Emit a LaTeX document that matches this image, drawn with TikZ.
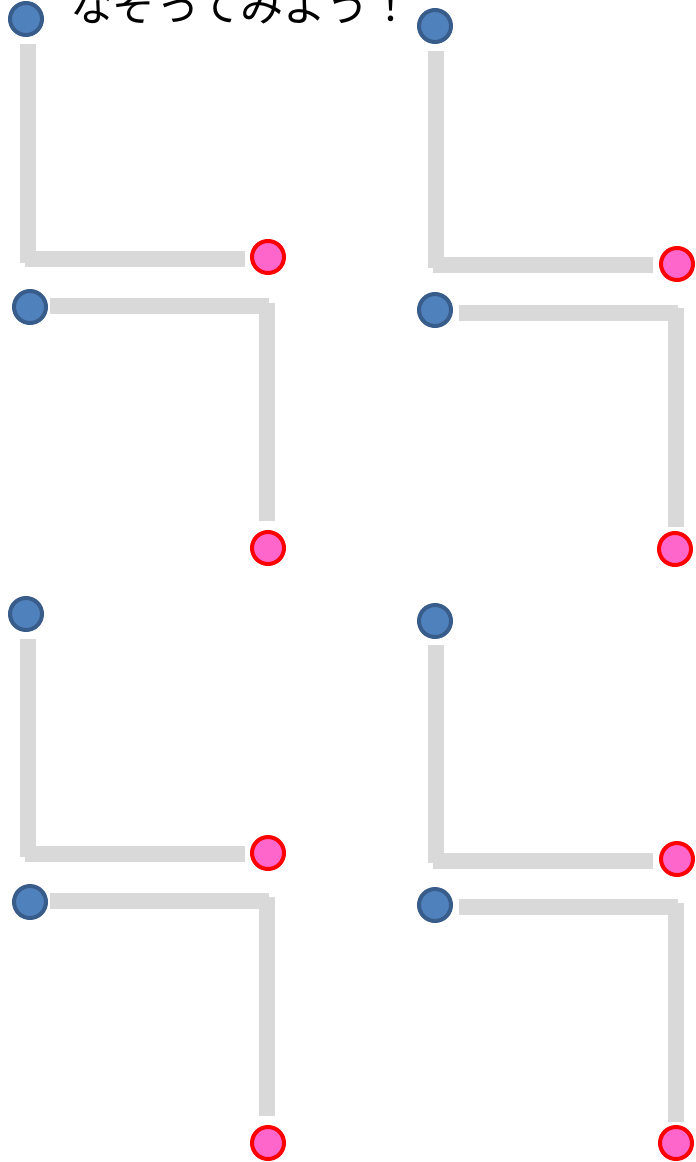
\documentclass[tikz,border=0pt]{standalone}
\usepackage{xcolor}
\usepackage{fontspec}
\newfontfamily\jpfont{Noto Sans CJK JP}
\definecolor{dotblue}{HTML}{4F81BD}
\definecolor{dotblueline}{HTML}{385D8A}
\definecolor{dotpink}{HTML}{FF66CC}
\definecolor{bargray}{HTML}{D9D9D9}

\begin{document}
\begin{tikzpicture}[x=1pt, y=-1pt,
  bluedot/.style={circle, draw=dotblueline, fill=dotblue, line width=4pt, minimum size=32pt, inner sep=0pt},
  pinkdot/.style={circle, draw=red, fill=dotpink, line width=4pt, minimum size=32pt, inner sep=0pt},
  bar/.style={draw=bargray, line width=16pt, line cap=butt}]
\useasboundingbox (0, 0) rectangle (696, 1162);
\node[anchor=base west, inner sep=0pt, font=\jpfont\fontsize{43}{43}\selectfont] (title) at (70, 21) {なぞってみよう！};

% top left
\draw[bar] (28, 44) -- (28, 263);
\draw[bar] (25, 259) -- (245, 259);
\draw[bar] (50, 305.5) -- (269, 305.5);
\draw[bar] (267, 303) -- (267, 521);
\node[bluedot] (a1) at (26, 19) {};
\node[pinkdot] (b1) at (268, 257) {};
\node[bluedot] (a2) at (30, 307) {};
\node[pinkdot] (b2) at (268, 548) {};

% top right
\draw[bar] (436, 51) -- (436, 268);
\draw[bar] (433, 265) -- (653, 265);
\draw[bar] (459, 312.5) -- (678, 312.5);
\draw[bar] (675.5, 308) -- (675.5, 527);
\node[bluedot] (a3) at (435, 26) {};
\node[pinkdot] (b3) at (677, 264) {};
\node[bluedot] (a4) at (435, 310) {};
\node[pinkdot] (b4) at (675, 549) {};

% bottom left
\draw[bar] (28, 639) -- (28, 857);
\draw[bar] (25, 854) -- (245, 854);
\draw[bar] (50, 900.5) -- (269, 900.5);
\draw[bar] (267, 897) -- (267, 1116);
\node[bluedot] (a5) at (26, 614) {};
\node[pinkdot] (b5) at (268, 853) {};
\node[bluedot] (a6) at (30, 902) {};
\node[pinkdot] (b6) at (268, 1143) {};

% bottom right
\draw[bar] (436, 645) -- (436, 863);
\draw[bar] (433, 860.5) -- (653, 860.5);
\draw[bar] (459, 907) -- (678, 907);
\draw[bar] (675.5, 903) -- (675.5, 1122);
\node[bluedot] (a7) at (435, 621) {};
\node[pinkdot] (b7) at (677, 859) {};
\node[bluedot] (a8) at (435, 905) {};
\node[pinkdot] (b8) at (676, 1143) {};
\end{tikzpicture}
\end{document}
